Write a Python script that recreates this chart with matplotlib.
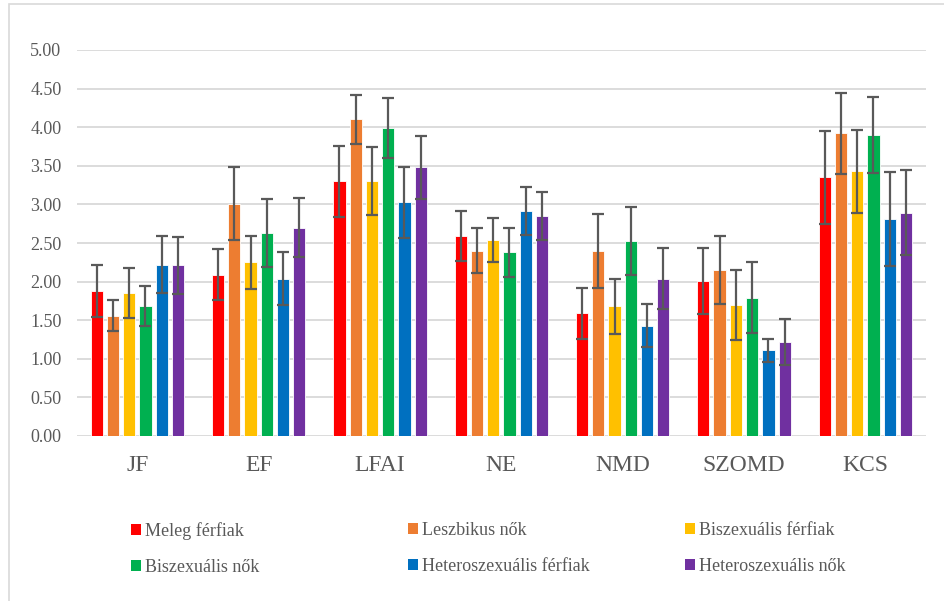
import matplotlib
matplotlib.use("Agg")
import matplotlib.pyplot as plt
from matplotlib.patches import Rectangle, Patch
import numpy as np

categories = ["JF", "EF", "LFAI", "NE", "NMD", "SZOMD", "KCS"]
series = ["Meleg férfiak", "Leszbikus nők", "Biszexuális férfiak",
          "Biszexuális nők", "Heteroszexuális férfiak", "Heteroszexuális nők"]
colors = ["#FF0000", "#ED7D31", "#FFC000", "#00B050", "#0070C0", "#7030A0"]

meleg_ferfiak = [1.88, 2.09, 3.30, 2.59, 1.59, 2.01, 3.35]
leszbikus_nok = [1.56, 3.01, 4.10, 2.40, 2.40, 2.15, 3.92]
biszex_ferfiak = [1.85, 2.25, 3.30, 2.54, 1.68, 1.70, 3.43]
biszex_nok = [1.68, 2.63, 3.99, 2.38, 2.53, 1.79, 3.90]
hetero_ferfiak = [2.22, 2.04, 3.03, 2.91, 1.43, 1.11, 2.81]
hetero_nok = [2.21, 2.70, 3.48, 2.85, 2.04, 1.22, 2.89]

err_meleg_ferfiak = [0.34, 0.33, 0.46, 0.32, 0.33, 0.43, 0.60]
err_leszbikus_nok = [0.20, 0.47, 0.32, 0.29, 0.48, 0.44, 0.52]
err_biszex_ferfiak = [0.32, 0.34, 0.44, 0.28, 0.36, 0.45, 0.54]
err_biszex_nok = [0.26, 0.44, 0.39, 0.32, 0.44, 0.46, 0.49]
err_hetero_ferfiak = [0.37, 0.34, 0.46, 0.31, 0.28, 0.15, 0.61]
err_hetero_nok = [0.37, 0.38, 0.41, 0.31, 0.40, 0.30, 0.55]

values = [meleg_ferfiak, leszbikus_nok, biszex_ferfiak, biszex_nok, hetero_ferfiak, hetero_nok]
errors = [err_meleg_ferfiak, err_leszbikus_nok, err_biszex_ferfiak, err_biszex_nok,
          err_hetero_ferfiak, err_hetero_nok]
yticks = [0, 0.5, 1.0, 1.5, 2.0, 2.5, 3.0, 3.5, 4.0, 4.5, 5.0]

W, H = 944, 601
fig = plt.figure(figsize=(W / 100, H / 100), dpi=100)
plt.rcParams['font.family'] = ['Liberation Serif', 'DejaVu Serif']
txt = "#595959"

# outer chart frame
fig.patches.append(Rectangle((9 / W, -0.01), 1.0, 1 - 4 / H + 0.01, transform=fig.transFigure,
                             fill=False, edgecolor="#D9D9D9", linewidth=1.2))

ax = fig.add_axes([76.7 / W, 1 - 436 / H, (926 - 76.7) / W, (436 - 50) / H])

x = np.arange(len(categories))
pitch = 0.134
bw = 0.101
for i, (vals, errs, c, name) in enumerate(zip(values, errors, colors, series)):
    ax.bar(x + (i - 2.5) * pitch, vals, width=bw, color=c, edgecolor="white",
           linewidth=0.6, label=name, zorder=2,
           yerr=errs, error_kw=dict(ecolor="#595959", elinewidth=1.6, capsize=4.5,
                                    capthick=1.6, zorder=3))

ax.set_xlim(-0.5, len(categories) - 0.5)
ax.set_ylim(0, 5)
ax.set_yticks(yticks)
ax.set_yticklabels([f"{v:.2f}" for v in yticks], fontsize=13, color=txt)
ax.set_xticks(x)
ax.set_xticklabels(categories, fontsize=17, color=txt)
ax.tick_params(axis="both", length=0)
ax.tick_params(axis="y", pad=11)
ax.tick_params(axis="x", pad=14)
ax.grid(axis="y", color="#D9D9D9", linewidth=1.3, zorder=0)
ax.set_axisbelow(True)
for s in ax.spines.values():
    s.set_visible(False)

# legend: three columns, two rows, filled row by row
col_x = [131, 408, 685]
for col in range(3):
    idx = [col, col + 3]
    hs = [Patch(facecolor=colors[k], edgecolor="none") for k in idx]
    ls = [series[k] for k in idx]
    leg = fig.legend(hs, ls, loc="upper left",
                     bbox_to_anchor=(col_x[col] / W, 1 - 522 / H),
                     frameon=False, fontsize=13,
                     handlelength=0.55, handleheight=0.55, handletextpad=0.2,
                     borderaxespad=0, borderpad=0, labelspacing=1.05)
    for t in leg.get_texts():
        t.set_color(txt)

fig.savefig("out.png", dpi=100)
